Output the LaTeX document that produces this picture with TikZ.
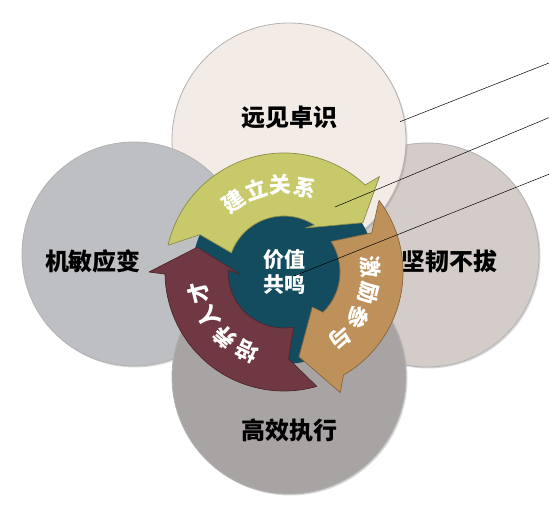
\documentclass[tikz,border=0pt]{standalone}
\usepackage{fontspec}
\newfontfamily\cjk{Noto Sans CJK SC}
\usetikzlibrary{calc, shadows, positioning}
\definecolor{visioncol}{HTML}{F3EBE6}
\definecolor{agilecol}{HTML}{BEBFC3}
\definecolor{tenaccol}{HTML}{D3CCC8}
\definecolor{execcol}{HTML}{A9A4A4}
\definecolor{hubcol}{HTML}{134B5F}
\definecolor{relcol}{HTML}{C8C96A}
\definecolor{motcol}{HTML}{BE915A}
\definecolor{talcol}{HTML}{6F3842}

\begin{document}
\begin{tikzpicture}[x=1pt, y=1pt,
        bubble/.style={circle, draw=black!30, line width=0.8pt, inner sep=0pt,
            drop shadow={opacity=0.3, shadow xshift=1.5pt, shadow yshift=-1.5pt}},
        bubblelabel/.style={font=\cjk\bfseries\fontsize{24}{28}\selectfont, text=black},
        hub/.style={circle, fill=hubcol, minimum size=184pt, inner sep=0pt, align=center,
            text=white, font=\cjk\bfseries\fontsize{21}{25}\selectfont},
        cyclearrow/.style={fill=#1, draw=#1!70!black, line width=0.7pt, line join=round},
        arrowtext/.style={text=white, inner sep=0pt, font=\cjk\bfseries\fontsize{22}{22}\selectfont},
        leader/.style={draw=black, line width=0.5pt}
    ]
        \useasboundingbox (0,0) rectangle (549,514);
        \fill[white] (0,0) rectangle (549,514);

        % four circles
        \node[bubble, fill=tenaccol, minimum size=224pt] (tenacity) at (427,259) {};
        \node[bubble, fill=visioncol, minimum size=234pt] (vision) at (289,374) {};
        \node[bubble, fill=agilecol, minimum size=224pt] (agility) at (134,260) {};
        \node[bubble, fill=execcol, minimum size=234pt] (execution) at (289,137) {};

        \node[bubblelabel] (visionlbl) at (289,397) {远见卓识};
        \node[bubblelabel] (agilitylbl) at (93,253) {机敏应变};
        \node[bubblelabel] (tenacitylbl) at (449,253) {坚韧不拔};
        \node[bubblelabel] (executionlbl) at (289,84) {高效执行};

        % hub
        \coordinate (C) at (284,242);
        \node[hub] (hub) at (C) {价值\\共鸣};

        % cycle arrows
        \path[cyclearrow=motcol] ($(C)+(37:119)$) arc[start angle=37, end angle=-60, radius=119]
            -- ($(C)+(-65:133)$) -- ($(C)+(-80:86)$) -- ($(C)+(-51:45)$) -- ($(C)+(-46:56)$)
            arc[start angle=-46, end angle=33, radius=56] -- ($(C)+(24:96)$) -- cycle;
        \path[cyclearrow=talcol] ($(C)+(286:119)$) arc[start angle=286, end angle=181, radius=119]
            -- ($(C)+(180:135)$) -- ($(C)+(164:90)$) -- ($(C)+(183:44)$) -- ($(C)+(178:56)$)
            arc[start angle=178, end angle=280, radius=56] -- ($(C)+(273:87)$) -- cycle;
        \path[cyclearrow=relcol] ($(C)+(167:119)$) arc[start angle=167, end angle=47, radius=119]
            -- ($(C)+(45:135)$) -- ($(C)+(32:93)$) -- ($(C)+(64:49)$) -- ($(C)+(57:56)$)
            arc[start angle=57, end angle=160, radius=56] -- ($(C)+(156:92)$) -- cycle;

        \foreach \ch [count=\i, evaluate=\i as \ang using 142-16.5*\i] in {建,立,关,系}
            \node[arrowtext, rotate=\ang-90] (rel\i) at ($(C)+(\ang:87)$) {\ch};
        \foreach \ch [count=\i, evaluate=\i as \ang using 21-17.5*\i] in {激,励,参,与}
            \node[arrowtext, rotate=\ang-90] (mot\i) at ($(C)+(\ang:87)$) {\ch};
        \foreach \ch [count=\i, evaluate=\i as \ang using 262-17*\i] in {培,养,人,才}
            \node[arrowtext, rotate=\ang-90] (tal\i) at ($(C)+(\ang:88)$) {\ch};

        % leader lines
        \coordinate (lead1) at (549,451);
        \coordinate (lead2) at (549,396.4);
        \coordinate (lead3) at (549,339.8);
        \coordinate (end1) at (400,392.3);
        \coordinate (end2) at (335,307);
        \coordinate (end3) at (294,238);
        \draw[leader] (lead1) -- (end1);
        \draw[leader] (lead2) -- (end2);
        \draw[leader] (lead3) -- (end3);

    \end{tikzpicture}
\end{document}
